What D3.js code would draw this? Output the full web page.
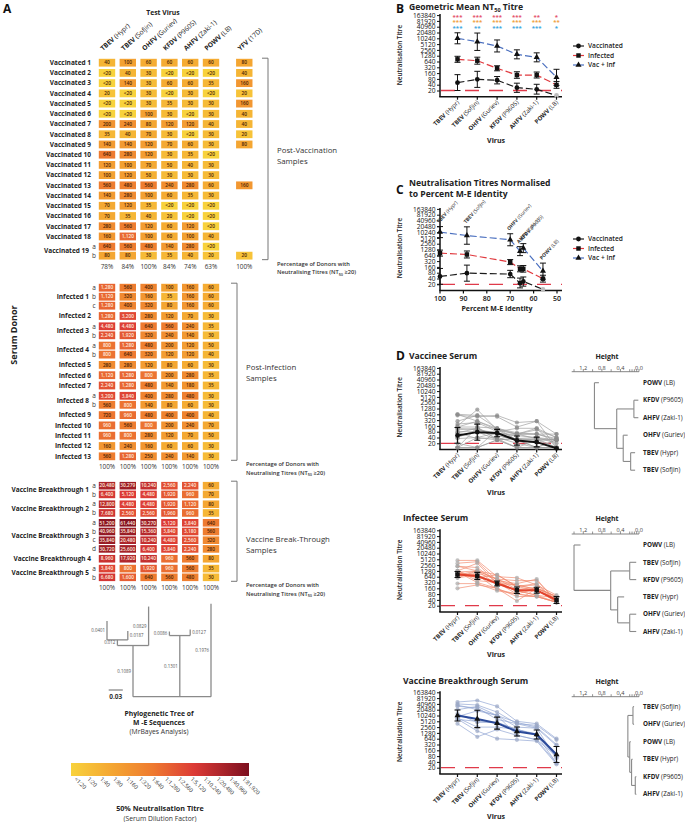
<!DOCTYPE html>
<html><head><meta charset="utf-8">
<script src="https://cdnjs.cloudflare.com/ajax/libs/d3/7.8.5/d3.min.js"></script>
<style>body{margin:0;background:#fff}svg{display:block;font-family:"Open Sans","Noto Sans",sans-serif}</style>
</head><body><svg id="chart" width="685" height="822"></svg>
<script>
// ---------------- DATA ----------------
const viruses = ["TBEV (Hypr)","TBEV (Sofjin)","OHFV (Guriev)","KFDV (P9605)","AHFV (Zaki-1)","POWV (LB)"];
const yfvLabel = "YFV (17D)";

const vaccinatedRows = [
 ["Vaccinated 1","",["40","100","60","60","60","60"],"80"],
 ["Vaccinated 2","",["<20","40","30","<20","<20","<20"],"40"],
 ["Vaccinated 3","",["<20","140","30","60","60","35"],"160"],
 ["Vaccinated 4","",["20","<20","30","<20","30","<20"],"20"],
 ["Vaccinated 5","",["<20","<20","30","35","30","30"],"160"],
 ["Vaccinated 6","",["<20","<20","100","30","<20","30"],"40"],
 ["Vaccinated 7","",["200","240","80","120","120","40"],"40"],
 ["Vaccinated 8","",["35","40","70","30","<20","30"],"20"],
 ["Vaccinated 9","",["140","140","120","70","60","30"],"80"],
 ["Vaccinated 10","",["640","280","120","30","35","<20"],""],
 ["Vaccinated 11","",["120","100","70","50","40","30"],""],
 ["Vaccinated 12","",["100","120","50","30","30","30"],""],
 ["Vaccinated 13","",["560","480","560","240","280","60"],"160"],
 ["Vaccinated 14","",["140","280","100","60","35","30"],""],
 ["Vaccinated 15","",["70","120","35","<20","<20","<20"],""],
 ["Vaccinated 16","",["70","35","40","20","<20","<20"],""],
 ["Vaccinated 17","",["280","560","120","60","120","<20"],""],
 ["Vaccinated 18","",["160","1,120","100","60","100","40"],""],
 ["Vaccinated 19","a",["640","560","480","140","280","<20"],""],
 ["Vaccinated 19","b",["80","80","30","35","40","20"],"20"]
];
const vaccinatedPct = ["78%","84%","100%","84%","74%","63%"];
const yfvPct = "100%";

const infectedRows = [
 ["Infected 1","a",["1,280","560","400","100","160","60"]],
 ["Infected 1","b",["1,120","320","160","35","160","60"]],
 ["Infected 1","c",["1,280","400","320","80","160","60"]],
 ["Infected 2","",["1,280","3,200","280","120","70","30"]],
 ["Infected 3","a",["4,480","4,480","640","560","240","35"]],
 ["Infected 3","b",["2,240","1,920","320","240","140","30"]],
 ["Infected 4","a",["800","1,280","480","200","120","50"]],
 ["Infected 4","b",["800","640","320","120","120","40"]],
 ["Infected 5","",["280","280","120","80","60","30"]],
 ["Infected 6","",["1,120","1,280","800","200","280","35"]],
 ["Infected 7","",["2,240","1,280","480","140","180","35"]],
 ["Infected 8","a",["3,200","3,840","400","280","480","30"]],
 ["Infected 8","b",["560","800","140","80","60","30"]],
 ["Infected 9","",["720","960","480","400","400","40"]],
 ["Infected 10","",["960","560","800","200","240","70"]],
 ["Infected 11","",["960","800","280","120","70","50"]],
 ["Infected 12","",["160","240","160","60","60","30"]],
 ["Infected 13","",["560","1,280","250","240","140","30"]]
];
const infectedPct = ["100%","100%","100%","100%","100%","100%"];

const breakthroughRows = [
 ["Vaccine Breakthrough 1","a",["20,480","30,279","10,240","2,560","2,240","60"]],
 ["Vaccine Breakthrough 1","b",["6,400","5,120","4,480","1,920","960","70"]],
 ["Vaccine Breakthrough 2","a",["12,800","4,480","4,480","1,920","1,120","80"]],
 ["Vaccine Breakthrough 2","b",["7,680","2,560","2,560","1,960","960","35"]],
 ["Vaccine Breakthrough 3","a",["51,200","61,440","30,270","5,120","3,840","640"]],
 ["Vaccine Breakthrough 3","b",["40,960","35,840","15,360","3,840","3,180","560"]],
 ["Vaccine Breakthrough 3","c",["35,840","20,480","10,240","4,480","2,560","320"]],
 ["Vaccine Breakthrough 3","d",["30,720","25,600","6,400","3,840","2,240","280"]],
 ["Vaccine Breakthrough 4","",["8,960","17,920","10,240","960","560","80"]],
 ["Vaccine Breakthrough 5","a",["3,840","800","1,920","960","560","35"]],
 ["Vaccine Breakthrough 5","b",["6,680","1,600","640","560","480","30"]]
];
const breakthroughPct = ["100%","100%","100%","100%","100%","100%"];

const legendLabels = ["<1:20","1:20","1:40","1:80","1:160","1:320","1:640","1:1,280","1:2,560","1:5,120","1:10,240","1:20,480","1:40,960","1:81,920"];

// phylogenetic tree of M-E sequences (tip = column index, len = branch length)
const phyloTree = {children:[
  {len:0.1089, children:[
     {len:0.012, children:[{tip:0,len:0.0401},{tip:1,len:0.0187}]},
     {tip:2,len:0.0829}]},
  {len:0.1301, children:[{tip:3,len:0.0086},{tip:4,len:0.0127}]},
  {tip:5,len:0.1976}]};

// geometric mean titres (panel B/C/D)
const seriesNames = ["Vaccinated","Infected","Vac + Inf"];
const gmtVaccinated   = [51, 76, 68, 28, 23, 11];
const gmtVaccinatedLo = [20, 29, 44, 16, 13, null];
const gmtVaccinatedHi = [133, 198, 106, 48, 42, null];
const gmtInfected     = [830, 705, 284, 127, 127, 39];
const gmtInfectedLo   = [580, 465, 210, 86, 89, 26];
const gmtInfectedHi   = [1190, 1070, 384, 188, 182, 59];
const gmtVacInf       = [10240, 6800, 4080, 1510, 1050, 97];
const gmtVacInfLo     = [5300, 2400, 2000, 880, 615, 37];
const gmtVacInfHi     = [19800, 19200, 8400, 2580, 1800, 252];

const starsInfected  = ["***","***","***","***","**","*"];
const starsVacInf    = ["***","***","***","***","***","**"];
const starsBoth      = ["***","**","***","***","***","*"];

const identity = [100, 88.5, 70, 64.4, 65.8, 56]; // percent M-E identity per virus
const identityTicks = [100, 90, 80, 70, 60, 50];
const titreTicks = [163840,81920,40960,20480,10240,5120,2560,1280,640,320,160,80,40,20];

// dendrograms (h = merge height)
const dendroVaccinee = {h:0.96, children:[{leaf:"POWV (LB)"},
  {h:0.48, children:[{h:0.11, children:[{leaf:"KFDV (P9605)"},{leaf:"AHFV (Zaki-1)"}]},
                     {h:0.34, children:[{leaf:"OHFV (Guriev)"},{h:0.18, children:[{leaf:"TBEV (Hypr)"},{leaf:"TBEV (Sofjin)"}]}]}]}]};
const dendroInfectee = {h:1.40, children:[{leaf:"POWV (LB)"},
  {h:0.61, children:[{h:0.20, children:[{leaf:"TBEV (Sofjin)"},{leaf:"KFDV (P9605)"}]},
                     {h:0.46, children:[{leaf:"TBEV (Hypr)"},{h:0.20, children:[{leaf:"OHFV (Guriev)"},{leaf:"AHFV (Zaki-1)"}]}]}]}]};
const dendroBreakthrough = {h:0.24, children:[
  {h:0.13, children:[{leaf:"TBEV (Sofjin)"},{leaf:"OHFV (Guriev)"}]},
  {h:0.20, children:[{leaf:"POWV (LB)"},{h:0.16, children:[{leaf:"TBEV (Hypr)"},{h:0.08, children:[{leaf:"KFDV (P9605)"},{leaf:"AHFV (Zaki-1)"}]}]}]}]};
const heightTicks = [1.2, 0.8, 0.4, 0.0];

// ---------------- DRAWING ----------------
const svg = d3.select("#chart");
const parseTitre = s => s.startsWith("<") ? 10 : +s.replace(/,/g,"");
const splitName = v => { const i = v.indexOf(" "); return [v.slice(0,i), v.slice(i)]; };

function text(g, x, y, s, size, weight, anchor, fill){
  return g.append("text").attr("x",x).attr("y",y).attr("font-size",size)
    .attr("font-weight",weight||400).attr("text-anchor",anchor||"start")
    .attr("fill",fill||"#222").text(s);
}
function virusLabel(sel, v, size){
  const [n,s] = splitName(v);
  sel.attr("font-size",size);
  sel.append("tspan").attr("font-weight",700).text(n);
  sel.append("tspan").attr("font-weight",400).text(s);
}

// ===== Panel A =====
const A = svg.append("g");
text(A, 3, 13, "A", 12, 700, "start", "#111");
text(A, 163, 15, "Test Virus", 6.8, 700, "middle", "#222");

const colX = d3.scaleLinear().domain([0,1]).range([107, 127.8]);
const yfvIdx = 6.6;
const heatColor = d3.scaleLinear().domain([0,3,6,9,13])
  .range(["#f8d23c","#f4a632","#ee7a30","#dc3a36","#7c0f1f"]).clamp(true);
const heatIndex = v => v < 20 ? 0 : 1 + Math.log2(v/20);

// column labels
viruses.concat([yfvLabel]).forEach((v,i)=>{
  const x = colX(i === 6 ? yfvIdx : i) - 4, y = 51;
  const t = A.append("text").attr("transform",`translate(${x},${y}) rotate(-42)`).attr("fill","#222");
  virusLabel(t, v, 6.6);
});

function layoutRows(rows, y0, step, gap){
  let y = y0, prev = null;
  return rows.map((r,i)=>{
    if(i>0){ y += step; if(r[0]!==prev) y += gap; }
    prev = r[0];
    return {donor:r[0], sub:r[1], vals:r[2], yfv:r[3], y};
  });
}
function drawSection(rows, y0, step, gap, cellH, pct, bracketX, labelX, titleLines, pctYfv){
  const L = layoutRows(rows, y0, step, gap);
  const g = A.append("g");
  L.forEach(r=>{
    const cells = r.vals.map((s,i)=>({s,i}));
    if(r.yfv) cells.push({s:r.yfv, i:yfvIdx});
    cells.forEach(c=>{
      const v = parseTitre(c.s), t = heatIndex(v);
      g.append("rect").attr("x",colX(c.i)-8.2).attr("y",r.y-cellH/2).attr("width",16.4).attr("height",cellH)
        .attr("fill",heatColor(t));
      text(g, colX(c.i), r.y+1.7, c.s, 4.8, 600, "middle", t>=6.3 ? "#fde9de" : "#4a1f05");
    });
    if(r.sub) text(g, 94, r.y+2.2, r.sub, 6.5, 400, "middle", "#333");
  });
  // donor labels
  d3.groups(L, d=>d.donor).forEach(([name, rs])=>{
    const y = d3.mean(rs, d=>d.y);
    text(g, rs.length>1 ? 89 : 91, y+2.3, name, 6.5, 700, "end", "#222");
  });
  const last = L[L.length-1].y, first = L[0].y;
  const py = last + 13;
  pct.forEach((p,i)=> text(g, colX(i), py, p, 6.4, 400, "middle", "#333"));
  if(pctYfv) text(g, colX(yfvIdx), py, pctYfv, 6.4, 400, "middle", "#333");
  // bracket
  const top = first - 4.5, bot = last + 4;
  g.append("path").attr("d",`M${bracketX-6},${top}H${bracketX}V${bot}H${bracketX-6}`)
    .attr("fill","none").attr("stroke","#777").attr("stroke-width",1);
  const mid = (top+bot)/2 + titleLines.dy;
  titleLines.lines.forEach((s,k)=> text(g, labelX, mid + k*11, s, 7.8, 400, "start", "#333"));
  text(g, labelX, py-3, "Percentage of Donors with", 5.7, 600, "start", "#333");
  const p2 = g.append("text").attr("x",labelX).attr("y",py+5.5).attr("font-size",5.7).attr("font-weight",600).attr("fill","#333");
  p2.append("tspan").text("Neutralising Titres (NT");
  p2.append("tspan").attr("font-size",3.8).attr("dy",1.5).text("50");
  p2.append("tspan").attr("dy",-1.5).text(" \u226520)");
  return L;
}
drawSection(vaccinatedRows, 62.7, 9, 1.22, 7.8, vaccinatedPct, 268, 277, {lines:["Post-Vaccination","Samples"], dy:-6}, yfvPct);
drawSection(infectedRows, 287.7, 9, 1.3, 7.8, infectedPct, 237, 246, {lines:["Post-Infection","Samples"], dy:-2}, null);
drawSection(breakthroughRows, 485.7, 8.7, 1.15, 7.6, breakthroughPct, 237, 246, {lines:["Vaccine Break-Through","Samples"], dy:11}, null);

text(A, 0, 0, "Serum Donor", 9, 700, "middle", "#222").attr("transform","translate(17,335) rotate(-90)");

// phylogenetic tree
const treeY = d3.scaleLinear().domain([0, 0.1]).range([696.7, 649.7]);
const rightLabels = new Set([1,4]);
(function layoutTree(n, depth){
  n.depth = depth;
  if(n.children){ n.children.forEach(c=>layoutTree(c, depth + c.len)); n.x = d3.mean(n.children, c=>c.x); }
  else n.x = colX(n.tip);
})(phyloTree, 0);
const tg = A.append("g").attr("stroke","#8a8a8a").attr("stroke-width",1.3).attr("fill","none");
(function drawTree(n, parentDepth){
  if(parentDepth !== null){
    tg.append("line").attr("x1",n.x).attr("x2",n.x).attr("y1",treeY(parentDepth)).attr("y2",treeY(n.depth));
    const my = (treeY(parentDepth)+treeY(n.depth))/2 + 1.5;
    const right = n.tip !== undefined && rightLabels.has(n.tip);
    text(A, n.x + (right ? 2 : -2), my, String(n.len), 4.4, 400, right ? "start" : "end", "#555");
  }
  if(n.children){
    const xs = n.children.map(c=>c.x);
    tg.append("line").attr("x1",d3.min(xs)).attr("x2",d3.max(xs)).attr("y1",treeY(n.depth)).attr("y2",treeY(n.depth));
    n.children.forEach(c=>drawTree(c, n.depth));
  }
})(phyloTree, null);
tg.append("line").attr("x1",108.7).attr("x2",108.7 + (treeY(0)-treeY(0.03))).attr("y1",690).attr("y2",690);
text(A, 115.7, 699, "0.03", 6.5, 700, "middle", "#333");
text(A, 159, 715.5, "Phylogenetic Tree of", 6.8, 700, "middle", "#222");
text(A, 159, 724.5, "M -E Sequences", 6.8, 700, "middle", "#222");
text(A, 159, 733.5, "(MrBayes Analysis)", 6.8, 400, "middle", "#333");

// heat legend
const defs = svg.append("defs");
const grad = defs.append("linearGradient").attr("id","heatgrad");
d3.range(0, 13.01, 0.5).forEach(t=> grad.append("stop").attr("offset",(t/13*100)+"%").attr("stop-color",heatColor(t)));
A.append("rect").attr("x",71).attr("y",763).attr("width",178).attr("height",13).attr("fill","url(#heatgrad)");
const legX = d3.scaleLinear().domain([0,13]).range([75,243]);
legendLabels.forEach((s,i)=>{
  text(A, 0, 0, s, 5.6, 400, "start", "#333").attr("transform",`translate(${legX(i)-1},${779.5}) rotate(45)`);
});
text(A, 160, 811, "50% Neutralisation Titre", 7.2, 700, "middle", "#222");
text(A, 160, 820.5, "(Serum Dilution Factor)", 6.8, 400, "middle", "#333");

// ===== Right panels =====
const R = svg.append("g");
const X0 = 440, XEND = 562;
const catX = d3.scalePoint().domain(viruses).range([457.5, 556.5]);
const seriesColor = ["#1a1a1a","#e0393e","#4a6fbf"];
const seriesMean = [gmtVaccinated, gmtInfected, gmtVacInf];
const seriesLo = [gmtVaccinatedLo, gmtInfectedLo, gmtVacInfLo];
const seriesHi = [gmtVaccinatedHi, gmtInfectedHi, gmtVacInfHi];
const symbols = [d3.symbolCircle, d3.symbolSquare, d3.symbolTriangle];
const symSize = [18, 20, 16];

function titreScale(y20){ return d3.scaleLog().base(2).domain([20,163840]).range([y20, y20-75.4]); }

function yAxisPanel(y, axisY, labelY){
  const g = R.append("g");
  const ax = g.append("g").attr("transform",`translate(${X0},0)`)
    .call(d3.axisLeft(y).tickValues(titreTicks).tickFormat(d=>d).tickSize(3).tickPadding(1.5));
  ax.select(".domain").remove();
  ax.selectAll("text").attr("font-size",6.6).attr("fill","#111").attr("font-family",'"Open Sans",sans-serif');
  ax.selectAll("line").attr("stroke","#111");
  g.append("line").attr("x1",X0).attr("x2",X0).attr("y1",y(163840)-1).attr("y2",axisY).attr("stroke","#111").attr("stroke-width",1.5);
  g.append("line").attr("x1",X0-0.75).attr("x2",XEND).attr("y1",axisY).attr("y2",axisY).attr("stroke","#111").attr("stroke-width",1.6);
  text(g, 0, 0, "Neutralisation Titre", 6.4, 600, "middle", "#222").attr("transform",`translate(402,${labelY}) rotate(-90)`);
  // detection limit
  g.append("line").attr("x1",X0+1).attr("x2",XEND).attr("y1",y(20)).attr("y2",y(20))
    .attr("stroke","#e03a4a").attr("stroke-width",1.3).attr("stroke-dasharray","14,10");
  return g;
}
function catAxis(g, axisY, virusY){
  viruses.forEach(v=>{
    const x = catX(v);
    g.append("line").attr("x1",x).attr("x2",x).attr("y1",axisY).attr("y2",axisY+3).attr("stroke","#111").attr("stroke-width",1.2);
    const t = g.append("text").attr("text-anchor","end").attr("fill","#222")
      .attr("transform",`translate(${x+2},${axisY+6}) rotate(-45)`);
    virusLabel(t, v, 6);
  });
  text(g, catX(viruses[2])-1, virusY, "Virus", 7, 700, "middle", "#222");
}
function drawSeries(g, xOf, y, order, dashed){
  seriesMean.forEach((m,si)=>{
    const pts = order.map(i=>({x:xOf(i), v:m[i], lo:seriesLo[si][i], hi:seriesHi[si][i]}));
    g.append("path").attr("d", d3.line().x(d=>d.x).y(d=>y(d.v))(pts))
      .attr("fill","none").attr("stroke",seriesColor[si]).attr("stroke-width",1.2).attr("stroke-dasharray",dashed?"7,3":null);
    pts.forEach(p=>{
      if(p.lo!=null){
        g.append("path").attr("d",`M${p.x},${y(p.lo)}V${y(p.hi)}M${p.x-3},${y(p.lo)}h6M${p.x-3},${y(p.hi)}h6`)
          .attr("stroke","#111").attr("stroke-width",1).attr("fill","none");
      }
      g.append("path").attr("d",d3.symbol().type(symbols[si]).size(symSize[si])())
        .attr("transform",`translate(${p.x},${y(p.v)})`).attr("fill", p.v<20 ? "#bdbdbd" : "#111");
    });
  });
}
function legend(g, y0){
  seriesNames.forEach((s,i)=>{
    const y = y0 + i*9.5;
    g.append("line").attr("x1",573).attr("x2",584).attr("y1",y).attr("y2",y).attr("stroke",seriesColor[i]).attr("stroke-width",1.2);
    g.append("path").attr("d",d3.symbol().type(symbols[i]).size(symSize[i])()).attr("transform",`translate(578.5,${y})`).attr("fill","#111");
    text(g, 588, y+2.3, s, 6.6, 600, "start", "#222");
  });
}

// --- Panel B ---
text(R, 396, 13, "B", 12, 700, "start", "#111");
const bt = R.append("text").attr("x",409).attr("y",9.8).attr("font-size",8.6).attr("font-weight",700).attr("fill","#222");
bt.append("tspan").text("Geometric Mean NT");
bt.append("tspan").attr("font-size",5.5).attr("dy",2).text("50");
bt.append("tspan").attr("dy",-2).text(" Titre");
const yB = titreScale(90.5);
const gB = yAxisPanel(yB, 96.7, 55);
[[starsInfected,"#e4506a",18.5],[starsVacInf,"#f0a040",24],[starsBoth,"#3aa6df",29.5]].forEach(([arr,c,yy])=>{
  arr.forEach((s,i)=> text(gB, catX(viruses[i]), yy, s, 6, 700, "middle", c));
});
drawSeries(gB, i=>catX(viruses[i]), yB, d3.range(6), true);
catAxis(gB, 96.7, 143);
legend(gB, 46);

// --- Panel C ---
text(R, 396, 194, "C", 12, 700, "start", "#111");
text(R, 409, 186, "Neutralisation Titres Normalised", 8.6, 700, "start", "#222");
text(R, 409, 196.5, "to Percent M-E Identity", 8.6, 700, "start", "#222");
const yC = titreScale(284.3);
const gC = yAxisPanel(yC, 290.5, 248);
const idX = d3.scaleLinear().domain([100,50]).range([X0, 557]);
const idOrder = d3.range(6).sort((a,b)=>identity[b]-identity[a]);
drawSeries(gC, i=>idX(identity[i]), yC, idOrder, true);
identityTicks.forEach(t=>{
  gC.append("line").attr("x1",idX(t)).attr("x2",idX(t)).attr("y1",290.5).attr("y2",293.5).attr("stroke","#111").attr("stroke-width",1.2);
  text(gC, idX(t), 300.5, t, 7, 600, "middle", "#111");
});
text(gC, 497, 311, "Percent M-E Identity", 7, 700, "middle", "#222");
viruses.forEach((v,i)=>{
  const t = gC.append("text").attr("fill","#333").attr("transform",`translate(${idX(identity[i])-1},${yC(gmtVacInfHi[i])-3}) rotate(-48)`);
  virusLabel(t, v, 5);
});
legend(gC, 239);

// --- Panel D ---
function dendrogram(tree, axisY, leafTop, leafStep, titleY){
  const g = R.append("g");
  const hx = d3.scaleLinear().domain([0,1.2]).range([639, 583.3]);
  text(g, 607, titleY, "Height", 7, 700, "middle", "#222");
  heightTicks.forEach(t=> text(g, hx(t), titleY+10.5, t.toFixed(1), 5.6, 400, "middle", "#444"));
  g.append("line").attr("x1",hx(1.45)).attr("x2",hx(0)).attr("y1",axisY).attr("y2",axisY).attr("stroke","#777").attr("stroke-width",0.9);
  [1.4,1.2,1.0,0.8,0.6,0.4,0.2,0.15,0.1,0.05,0].forEach(t=>
    g.append("line").attr("x1",hx(t)).attr("x2",hx(t)).attr("y1",axisY).attr("y2",axisY-2.5).attr("stroke","#777").attr("stroke-width",0.8));
  const hang = 0.1*tree.h;
  let k = 0;
  (function lay(n){ if(n.children){ n.children.forEach(lay); n.y = d3.mean(n.children, c=>c.y);} else { n.y = leafTop + leafStep*(k++);} })(tree);
  const lg = g.append("g").attr("stroke","#8a8a8a").attr("stroke-width",1.1).attr("fill","none");
  (function draw(n){
    if(!n.children) return;
    const ys = n.children.map(c=>c.y);
    lg.append("line").attr("x1",hx(n.h)).attr("x2",hx(n.h)).attr("y1",d3.min(ys)).attr("y2",d3.max(ys));
    n.children.forEach(c=>{
      const cx = c.children ? hx(c.h) : hx(n.h - hang);
      lg.append("line").attr("x1",hx(n.h)).attr("x2",cx).attr("y1",c.y).attr("y2",c.y);
      if(!c.children){
        const t = g.append("text").attr("x",643).attr("y",c.y+2.2).attr("fill","#222");
        virusLabel(t, c.leaf, 6.3);
      }
      draw(c);
    });
  })(tree);
}
function individualPanel(rows, y20, axisY, meanIdx, lineColor, pointColor, meanColor, titleY, title, letter, virusY, dend){
  if(letter) text(R, 396, titleY+1, letter, 12, 700, "start", "#111");
  text(R, letter ? 409 : 403, titleY, title, 8.6, 700, "start", "#222");
  const y = titreScale(y20);
  const g = yAxisPanel(y, axisY, y20-36);
  rows.forEach(r=>{
    const pts = r[2].map((s,i)=>({x:catX(viruses[i]), v:Math.max(parseTitre(s),12)}));
    g.append("path").attr("d",d3.line().x(d=>d.x).y(d=>y(d.v))(pts)).attr("fill","none")
      .attr("stroke",lineColor).attr("stroke-width",0.9).attr("opacity",0.75);
    pts.forEach(p=> g.append("circle").attr("cx",p.x).attr("cy",y(p.v)).attr("r",2.1).attr("fill",pointColor).attr("opacity",0.7));
  });
  const m = seriesMean[meanIdx], lo = seriesLo[meanIdx], hi = seriesHi[meanIdx];
  const mp = viruses.map((v,i)=>({x:catX(v), v:m[i], lo:lo[i], hi:hi[i]}));
  g.append("path").attr("d",d3.line().x(d=>d.x).y(d=>y(d.v))(mp)).attr("fill","none").attr("stroke",meanColor).attr("stroke-width",2);
  mp.forEach(p=>{
    if(p.lo!=null) g.append("path").attr("d",`M${p.x},${y(p.lo)}V${y(p.hi)}M${p.x-3},${y(p.lo)}h6M${p.x-3},${y(p.hi)}h6`)
      .attr("stroke","#111").attr("stroke-width",1.1).attr("fill","none");
    g.append("path").attr("d",d3.symbol().type(symbols[meanIdx]).size(symSize[meanIdx])()).attr("transform",`translate(${p.x},${y(p.v)})`).attr("fill","#111");
  });
  catAxis(g, axisY, virusY);
  dendrogram(dend.tree, dend.axisY, dend.leafTop, dend.step, titleY);
}
individualPanel(vaccinatedRows, 443.3, 449.5, 0, "#9c9c9c", "#8a8a8a", "#111", 359, "Vaccinee Serum", "D", 495,
  {tree:dendroVaccinee, axisY:371.7, leafTop:382.7, step:17.5});
individualPanel(infectedRows, 605.7, 612, 1, "#f2876c", "#a8a8a8", "#e2432c", 521, "Infectee Serum", null, 657,
  {tree:dendroInfectee, axisY:534, leafTop:545, step:17.3});
individualPanel(breakthroughRows, 767.7, 774, 2, "#8ea2d2", "#9aa6c4", "#2b4a9a", 684, "Vaccine Breakthrough Serum", null, 819,
  {tree:dendroBreakthrough, axisY:696.7, leafTop:706.7, step:17.5});
</script></body></html>
